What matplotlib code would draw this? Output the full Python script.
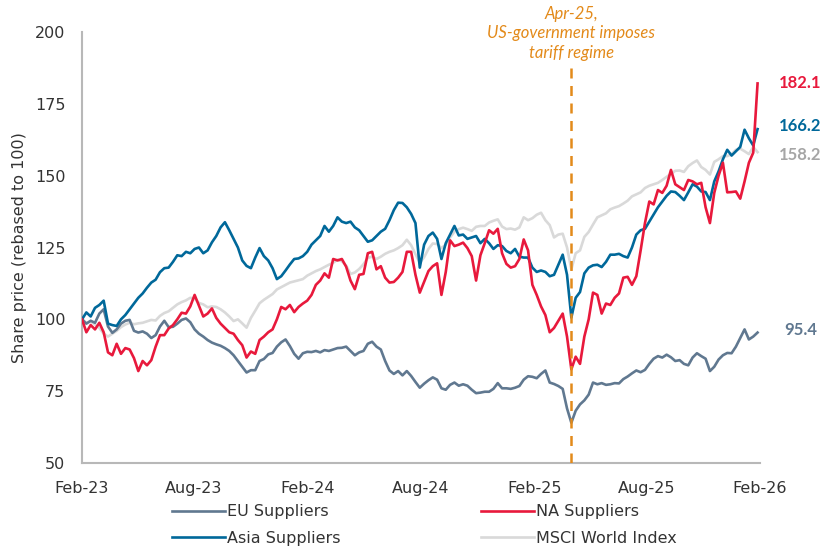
import numpy as np
import pandas as pd
import matplotlib
matplotlib.use("Agg")
import matplotlib.pyplot as plt
import matplotlib.dates as mdates

# weekly closes, rebased to 100 at the start of Feb 2023
dates = pd.date_range("2023-02-01", periods=157, freq="7D")

eu = [100, 98.5, 99.5, 98.8, 102, 103.5, 97.5, 95.3, 96.5, 98.5,
      99.5, 99.8, 96, 95.4, 95.8, 95, 93.5, 94.5, 97.5, 99.5,
      97.3, 97.4, 98.5, 99.8, 100.3, 99, 96.5, 95, 94, 92.8,
      91.9, 91.3, 90.8, 90, 89, 87.5, 85.5, 83.5, 81.5, 82.3,
      82.3, 85.5, 86.2, 87.8, 88.3, 90.5, 92, 93, 90.7, 88,
      86.3, 88.2, 88.7, 88.6, 89, 88.5, 89.3, 89, 89.5, 90,
      90.1, 90.5, 89, 87.5, 88.5, 89, 91.5, 92.2, 90.5, 89.5,
      85.5, 82.2, 81, 82, 80.5, 82, 80.3, 78.2, 76.2, 77.6,
      78.8, 79.8, 79, 76, 75.5, 77.2, 78, 76.9, 77.4, 76.9,
      75.5, 74.3, 74.5, 74.8, 74.8, 75.8, 77.8, 76, 76, 75.8,
      76.2, 76.8, 79, 80.2, 80, 79.5, 81, 82.2, 78, 77.5,
      76.8, 75.8, 69, 64, 68.2, 70.4, 71.8, 73.8, 78, 77.4,
      77.8, 77.2, 77.4, 77.8, 77.7, 79.2, 80.1, 81.2, 82.2, 81.6,
      82.4, 84.5, 86.3, 87.2, 86.7, 87.7, 86.8, 85.5, 85.8, 84.5,
      84, 86.7, 88.2, 87.2, 86.3, 82, 83.5, 86, 87.5, 88.3,
      88.2, 90.5, 93.5, 96.5, 93, 94, 95.4]

na = [100, 95.5, 98, 96.5, 98.8, 95.5, 88.5, 87.5, 91.5, 88,
      90, 89.5, 86.5, 82, 85.5, 84, 85.8, 90.5, 94.5, 94.5,
      96.8, 98, 100, 102.3, 102, 104.5, 108.5, 104.8, 101, 102,
      103.8, 100.5, 98.5, 97, 95.5, 95, 92.8, 91, 86.7, 88.8,
      88, 92.8, 94, 95.5, 96.5, 100, 104.3, 103.5, 105, 102.5,
      104.3, 105.5, 106.5, 108.5, 112, 113.5, 116, 114.5, 121, 120.5,
      121, 118.3, 113.5, 110.5, 115.5, 115.8, 123, 123.5, 117.4, 118.5,
      114.5, 112.8, 113, 114.5, 116.5, 123.5, 123.5, 115.5, 109.3, 113,
      116.8, 118.5, 119.5, 108.5, 116.5, 127.5, 125.5, 126, 126.7, 124.8,
      122, 113.5, 122.3, 126.5, 131, 129.8, 131.5, 123, 119.3, 118,
      118.5, 121, 127.8, 124, 112, 108.5, 104.5, 101.5, 95.5, 97,
      99.5, 102, 94, 82.6, 87, 84.5, 94, 100, 109.3, 108.5,
      102, 105.5, 105, 107.5, 109, 114.5, 114.8, 112, 115, 124,
      133.5, 141, 140, 145, 144, 146.5, 152, 147, 146, 145,
      148.5, 148, 147, 147.5, 139, 133.5, 144, 150, 154.5, 144.2,
      144.3, 144.5, 142, 148, 154.5, 158, 182.1]

asia = [100, 102.4, 101, 104, 105, 106.5, 98.5, 98, 97.7, 100,
        101.5, 103.5, 105.5, 107.5, 109, 111, 112.8, 113.8, 116.4, 117.8,
        118, 120, 122.3, 122, 123.5, 123, 124.5, 125, 123, 124,
        126.8, 129, 132, 133.8, 131, 128, 125, 120.5, 118.6, 117.8,
        121.5, 124.8, 122, 120.5, 117.8, 114, 115, 117, 119.1, 121,
        121.2, 122, 123.5, 126, 127.5, 129, 132.5, 130.5, 132.5, 135.5,
        134, 133.5, 134, 132, 131, 129, 127, 127.5, 129, 130.5,
        131.5, 134.5, 138, 140.6, 140.5, 139, 136.7, 133.5, 118, 126,
        129, 130.2, 128, 121, 126.5, 129.5, 132.5, 129.2, 129.5, 128,
        128.5, 129, 126.5, 128, 126.5, 124.5, 125.8, 125.5, 123.8, 123,
        124.5, 121.8, 121.5, 121.5, 118, 116.5, 117, 116.5, 115, 115.5,
        119, 122.5, 115.5, 100.6, 107.5, 109.5, 116, 118, 118.8, 119,
        118.2, 120, 122.5, 122.5, 122.8, 122, 121.5, 125, 129.5, 131,
        131.5, 134, 136.5, 139, 141, 143, 144.5, 144.3, 143, 141.5,
        144.2, 147, 146.2, 144.5, 144.3, 141.5, 148, 151.5, 155.7, 159,
        157, 158.5, 160, 166, 163, 160.5, 166.2]

msci = [100, 98.8, 99.3, 98.2, 97, 95, 94, 95, 96, 97.3,
        98.2, 98.8, 98.3, 98.6, 98.8, 99.3, 99.8, 99.6, 101.2, 102.2,
        102.8, 104, 105.2, 106, 106.6, 107.5, 107.2, 105.7, 105.2, 104.2,
        104.5, 104.3, 103.5, 102.4, 101, 99.4, 100, 98.6, 97.1, 100.5,
        103, 105.6, 106.8, 107.8, 108.8, 110.4, 111.2, 112, 112.8, 113.2,
        113.6, 114, 115.2, 116, 116.8, 117.4, 118.2, 119, 119.7, 120.8,
        120.2, 118.7, 115.8, 116.3, 117.5, 119.2, 121.4, 121.8, 121, 121.8,
        122.8, 123.5, 124, 124.8, 125.8, 127.7, 125.8, 122.7, 119.7, 121.6,
        124.5, 126.4, 126.2, 124.8, 126, 128.5, 130.5, 131.4, 131.9, 131.4,
        130.8, 132.2, 132.5, 132.5, 133.7, 134.3, 134.8, 132.3, 131.4, 131.6,
        131.2, 132, 135.5, 134.5, 135.2, 136.4, 137.1, 134.5, 132.8, 128.5,
        129.5, 129.8, 125, 117.4, 123, 124, 128.7, 130.4, 133, 135.5,
        136.2, 136.9, 138.3, 138.9, 139.4, 140.3, 141.3, 142.8, 143.5, 144.2,
        145.7, 146.5, 147, 147.5, 148.5, 149.6, 150.6, 151.7, 151.8, 151.3,
        153.3, 154.4, 155.3, 153, 152, 150.4, 154.8, 155.7, 156.8, 156.8,
        157.5, 159, 159.4, 158.5, 157.5, 160, 158.2]

tariff_day = pd.Timestamp("2025-04-02")
tariff_note = "Apr-25,\nUS-government imposes\ntariff regime"

C_EU = "#607890"
C_NA = "#e8193c"
C_ASIA = "#00689a"
C_MSCI = "#d9d9d9"
C_NOTE = "#e38a1a"
NARROW = ["Lato", "DejaVu Sans"]

plt.rcParams["font.family"] = ["DejaVu Sans"]

fig = plt.figure(figsize=(8.31, 5.48), dpi=100)
ax = fig.add_axes([0.0987, 0.1551, 0.8159, 0.7865])

ax.plot(dates, msci, color=C_MSCI, lw=1.9, label="MSCI World Index", zorder=2)
ax.plot(dates, eu, color=C_EU, lw=1.9, label="EU Suppliers", zorder=3)
ax.plot(dates, asia, color=C_ASIA, lw=1.9, label="Asia Suppliers", zorder=4)
ax.plot(dates, na, color=C_NA, lw=1.9, label="NA Suppliers", zorder=5)

ax.axvline(tariff_day, ymin=0, ymax=0.918, color=C_NOTE, lw=1.8,
           dashes=(4, 3), zorder=6)
ax.text(tariff_day, 199.5, tariff_note, ha="center", va="center",
        color=C_NOTE, style="italic", fontsize=12, linespacing=1.27,
        family=NARROW, clip_on=False)

ax.set_xlim(pd.Timestamp("2023-02-01"), pd.Timestamp("2026-02-01"))
ax.set_ylim(50, 200)
ax.set_yticks(np.arange(50, 201, 25))
ax.xaxis.set_major_locator(mdates.MonthLocator(bymonth=(2, 8)))
ax.xaxis.set_major_formatter(mdates.DateFormatter("%b-%y"))
ax.tick_params(axis="both", length=0, labelsize=11.5, colors="#333333")
ax.tick_params(axis="y", pad=12)
ax.tick_params(axis="x", pad=13)
ax.set_ylabel("Share price (rebased to 100)", fontsize=11.5,
              color="#333333", labelpad=6)

for side in ("top", "right"):
    ax.spines[side].set_visible(False)
for side in ("left", "bottom"):
    ax.spines[side].set_color("#b8b8b8")
    ax.spines[side].set_linewidth(1.5)

# closing value labels to the right of the plot, nudged apart a little
end_labels = ((na, C_NA, 0), (asia, C_ASIA, 2), (msci, "#a6a6a6", -2), (eu, C_EU, 2))
for series, color, nudge in end_labels:
    ax.annotate(f"{series[-1]:.1f}", xy=(1, series[-1]),
                xycoords=("axes fraction", "data"),
                xytext=(29, nudge), textcoords="offset points",
                ha="center", va="center", color=color, family=NARROW,
                fontsize=12, fontweight="bold", annotation_clip=False)

handles, labels = ax.get_legend_handles_labels()
order = [labels.index(n) for n in
         ("EU Suppliers", "Asia Suppliers", "NA Suppliers", "MSCI World Index")]
fig.legend([handles[i] for i in order], [labels[i] for i in order],
           loc="center", bbox_to_anchor=(0.511, 0.042), ncol=2,
           frameon=False, fontsize=11.5, handlelength=3.3,
           handletextpad=0.15, columnspacing=8.8, labelspacing=0.72,
           labelcolor="#333333")

fig.savefig("out.png", dpi=100)
